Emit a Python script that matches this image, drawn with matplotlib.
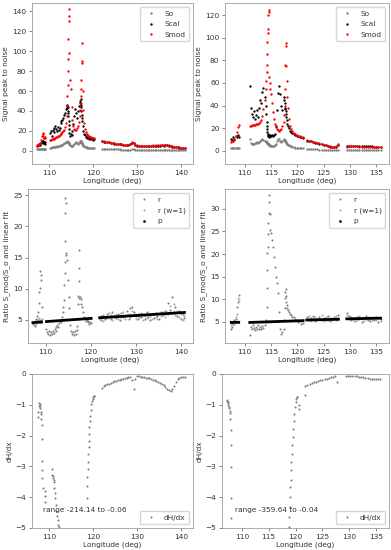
import matplotlib
matplotlib.use('Agg')
import matplotlib.pyplot as plt
import numpy as np
from matplotlib.lines import Line2D

plt.rcParams['font.size'] = 5.3
plt.rcParams['axes.linewidth'] = 0.5
plt.rcParams['axes.edgecolor'] = '#8c8c8c'
plt.rcParams['text.color'] = '#333333'
plt.rcParams['axes.labelcolor'] = '#333333'
plt.rcParams['xtick.color'] = '#333333'
plt.rcParams['ytick.color'] = '#333333'
plt.rcParams['lines.markeredgewidth'] = 0

# ---- left dataset (A) ----
xa1 = [107.2, 107.4, 107.6, 107.8, 108.0, 108.2, 108.4, 108.5, 108.6, 108.7, 108.8, 108.9, 109.0, 109.1]
soa1 = [1.5, 1.6, 1.5, 1.7, 1.8, 1.8, 1.9, 2.0, 2.1, 2.0, 2.2, 2.1, 2.0, 2.1]
sca1 = [5, 6, 5.5, 7, 6, 8, 10, 9, 8, 10, 9, 8, 9, 7]
sma1 = [6, 6, 6.5, 7, 8, 11, 15, 18, 17, 15, 13, 13, 14, 13]
ra1 = [4.3, 4.6, 4.0, 5.2, 4.8, 5.6, 6.3, 7.7, 9.4, 10.2, 12.8, 12.2, 11.4, 7.1]
rwa1 = [4.5, 4.2, 4.9, 4.4, 5.0, 4.6, 5.1, 4.7, 5.3, 4.8, 5.0, 4.5, 4.9, 5.2]

xa2 = [110.2, 110.4, 110.6, 110.8, 111.0, 111.2, 111.4, 111.6, 111.8, 112.0,
       112.2, 112.4, 112.6, 112.8, 113.0, 113.2, 113.4, 113.6, 113.8, 113.95,
       114.05, 114.15, 114.2, 114.25, 114.3, 114.35, 114.4, 114.45, 114.5, 114.6,
       114.75, 114.9, 115.1, 115.3, 115.5, 115.7, 115.9, 116.1, 116.3, 116.5,
       116.7, 116.9, 117.05, 117.15, 117.25, 117.3, 117.35, 117.4, 117.45, 117.5,
       117.6, 117.75, 117.9, 118.1, 118.3, 118.5, 118.7, 118.9, 119.1, 119.3,
       119.5, 119.7, 119.9, 120.1]
soa2 = [3, 3.2, 3.5, 3.8, 4, 4, 4.2, 4.5, 4.3, 4.5,
        4.8, 5, 5.5, 5.8, 6.2, 6.8, 7.5, 8.2, 9, 9.3,
        9.5, 9.4, 9.2, 9, 8.8, 8.5, 8.2, 7.8, 7.4, 6.8,
        6, 5.4, 5, 5, 5.5, 6.5, 7.5, 8.5, 8, 7,
        7.5, 8.5, 9.5, 10, 9.5, 9, 8.5, 8, 7.5, 7,
        6, 5, 4.5, 4, 3.8, 3.5, 3.3, 3.2, 3, 3,
        2.8, 2.7, 2.6, 2.5]
sca2 = [18, 20, 15, 21, 23, 19, 25, 22, 20, 24,
        21, 23, 30, 28, 31, 33, 36, 38, 42, 45,
        43, 46, 40, 44, 38, 35, 30, 26, 22, 18,
        15, 17, 16, 20, 27, 35, 42, 38, 33, 40,
        45, 48, 50, 52, 46, 44, 40, 36, 33, 30,
        25, 20, 17, 16, 14, 15, 13, 14, 12, 13,
        12, 13, 11, 12]
sma2 = [11, 11, 11.5, 12, 12, 12.5, 13, 13.5, 14, 14.5,
        15, 16, 17, 18, 19, 20, 21, 24, 28, 35,
        45, 55, 66, 80, 92, 112, 142, 135, 130, 98,
        71, 62, 44, 31, 25, 22, 21, 21, 23, 25,
        29, 35, 41, 48, 55, 62, 71, 88, 108, 90,
        60, 41, 28, 22, 19, 17, 16, 15, 14.5, 14,
        13.5, 13, 13, 12.5]
ra2 = [3.5, 3.0, 2.8, 3.2, 2.6, 3.0, 2.7, 3.3, 2.9, 3.6,
       3.2, 3.8, 4.2, 3.9, 4.5, 5.0, 4.6, 5.4, 6.2, 7.0,
       8.2, 10.6, 12.5, 14.3, 17.6, 22.2, 24.6, 23.8, 15.8, 15.4,
       14.6, 11.4, 8.7, 6.9, 4.2, 3.3, 2.8, 3.0, 2.6, 3.2,
       2.7, 3.4, 4.0, 5.2, 7.5, 8.8, 11.2, 13.3, 16.2, 8.5,
       8.7, 8.3, 7.6, 7.0, 6.2, 5.5, 5.2, 4.8, 5.0, 4.6,
       4.9, 4.4, 4.7, 4.5]

xa3 = [122.0, 122.4, 122.8, 123.2, 123.6, 124.0, 124.4, 124.8, 125.2, 125.6,
       126.0, 126.4, 126.8, 127.2, 127.6, 128.0, 128.4, 128.8, 129.2, 129.6,
       130.0, 130.4, 130.8, 131.2, 131.6, 132.0, 132.4, 132.8, 133.2, 133.6,
       134.0, 134.4, 134.8, 135.2, 135.6, 136.0, 136.4, 136.8, 137.2, 137.6,
       138.0, 138.4, 138.8, 139.2, 139.6, 140.0, 140.4, 140.8]
soa3 = [2.0, 1.95, 1.9, 1.85, 1.8, 1.75, 1.7, 1.65, 1.6, 1.55,
        1.5, 1.45, 1.4, 1.35, 1.3, 1.3, 1.4, 1.8, 1.5, 1.2,
        1.1, 1.1, 1.05, 1.0, 1.0, 1.0, 0.95, 0.95, 0.9, 0.9,
        0.9, 0.85, 0.85, 0.85, 0.8, 0.8, 0.8, 0.8, 0.75, 0.75,
        0.7, 0.7, 0.7, 0.65, 0.65, 0.6, 0.6, 0.6]
sca3 = [9.5, 9.2, 9.4, 8.7, 8.5, 8.0, 7.9, 7.4, 7.3, 6.9,
        6.7, 6.5, 6.2, 6.0, 5.8, 5.6, 6.8, 8.4, 7.6, 6.0,
        5.4, 5.3, 5.1, 5.2, 5.0, 5.2, 5.2, 5.1, 5.3, 5.3,
        5.2, 5.4, 5.4, 5.3, 5.5, 5.4, 5.5, 5.6, 5.4, 4.9,
        4.4, 4.0, 3.9, 3.6, 3.4, 3.2, 3.0, 2.9]
sma3 = [10.0, 9.6, 9.3, 9.0, 8.6, 8.3, 8.0, 7.7, 7.4, 7.1,
        6.8, 6.6, 6.4, 6.1, 5.9, 5.8, 6.5, 8.8, 8.0, 6.2,
        5.6, 5.4, 5.3, 5.3, 5.2, 5.3, 5.4, 5.3, 5.4, 5.5,
        5.4, 5.5, 5.6, 5.5, 5.6, 5.6, 5.7, 5.8, 5.6, 5.0,
        4.5, 4.2, 4.0, 3.7, 3.5, 3.3, 3.1, 3.0]
ra3 = [5.4, 5.0, 5.8, 5.2, 6.0, 5.5, 5.1, 6.2, 5.6, 5.3,
       5.9, 5.0, 6.1, 5.5, 5.7, 6.4, 5.2, 6.9, 7.1, 6.3,
       5.6, 5.2, 6.0, 5.4, 5.8, 5.1, 6.2, 5.5, 5.0, 5.9,
       5.3, 6.1, 5.6, 5.2, 6.3, 5.8, 6.5, 5.9, 7.7, 6.6,
       8.7, 6.2, 7.0, 5.6, 6.4, 5.2, 5.9, 5.3]
rwa3 = [5.2, 5.7, 4.9, 5.5, 5.3, 6.1, 5.8, 5.0, 5.4, 6.0,
        5.2, 5.7, 5.4, 6.3, 5.1, 5.8, 6.0, 5.5, 6.4, 5.9,
        5.1, 5.7, 5.5, 6.1, 5.0, 5.6, 5.3, 5.9, 5.7, 5.2,
        6.0, 5.5, 5.2, 5.9, 5.7, 6.2, 5.4, 6.4, 6.0, 7.2,
        6.1, 7.6, 5.8, 6.5, 5.5, 6.0, 5.0, 5.6]

# linear fit, segment end points
xpa = [107.2, 109.1, np.nan, 110.2, 120.1, np.nan, 122.0, 140.8]
pa = [4.57, 4.68, np.nan, 4.74, 5.25, np.nan, 5.35, 6.2]

# dH/dx (only the part inside -5..0)
xda1 = [107.4, 107.55, 107.7, 107.8, 107.9, 107.95, 108.0, 108.05, 108.1, 108.15,
        108.3, 108.35, 108.35, 108.4, 108.45, 108.6, 109.0, 109.05, 108.95]
dha1 = [-1.38, -1.24, -1.04, -0.93, -0.97, -1.03, -1.11, -1.22, -1.31, -1.45,
        -1.65, -2.10, -2.84, -3.11, -3.38, -3.70, -3.81, -3.95, -4.14]
xda2 = [110.6, 110.75, 110.85, 110.9, 111.0, 111.05, 111.1, 111.3, 111.35, 111.5,
        111.65, 111.8, 111.95, 112.1, 112.25]
dha2 = [-3.08, -3.27, -3.32, -3.38, -3.45, -3.52, -3.70, -3.87, -4.03, -4.24,
        -4.46, -4.60, -4.73, -4.89, -4.98]
xda3 = [118.6, 118.65, 118.7, 118.75, 118.8, 118.9, 118.95, 119.0, 119.1, 119.15,
        119.25, 119.35, 119.45, 119.6, 119.75, 119.9, 120.05, 120.2, 120.3]
dha3 = [-4.04, -3.64, -3.34, -3.07, -2.85, -2.61, -2.37, -2.16, -1.94, -1.73,
        -1.53, -1.35, -1.18, -0.99, -0.88, -0.80, -0.76, -0.73, -0.70]
dha4 = [-0.44, -0.40, -0.37, -0.34, -0.31, -0.28, -0.26, -0.24, -0.22, -0.20,
        -0.18, -0.16, -0.15, -0.13, -0.12, -0.11, -0.11, -0.20, -0.50, -0.15,
        -0.08, -0.08, -0.09, -0.10, -0.11, -0.12, -0.13, -0.14, -0.16, -0.18,
        -0.20, -0.22, -0.25, -0.28, -0.32, -0.37, -0.43, -0.49, -0.53, -0.54,
        -0.50, -0.40, -0.27, -0.17, -0.12, -0.10, -0.09, -0.09]

# ---- right dataset (B) ----
xb1 = [107.5, 107.7, 107.9, 108.1, 108.3, 108.5, 108.7, 108.9]
sob1 = [2.2, 2.4, 2.3, 2.5, 2.4, 2.6, 2.5, 2.6]
scb1 = [11, 10, 12, 11, 13, 12, 14, 12]
smb1 = [8, 8.5, 9, 10, 13, 17, 21, 23]
rb1 = [3.5, 3.9, 4.6, 5.4, 5.7, 8.3, 9.4, 10.9]
rwb1 = [4.2, 4.7, 5.0, 4.4, 6.1, 6.8, 10.2, 9.8]

xb2 = [111.0, 111.2, 111.4, 111.6, 111.8, 112.0, 112.2, 112.4, 112.6, 112.8,
       113.0, 113.2, 113.4, 113.6, 113.8, 114.0, 114.1, 114.2, 114.25, 114.3,
       114.35, 114.4, 114.45, 114.5, 114.55, 114.6, 114.7, 114.8, 114.9, 115.0,
       115.2, 115.4, 115.6, 115.8, 116.0, 116.2, 116.4, 116.6, 116.8, 117.0,
       117.2, 117.4, 117.55, 117.65, 117.7, 117.75, 117.8, 117.85, 117.9, 118.0,
       118.1, 118.2, 118.4, 118.6, 118.8, 119.0, 119.3, 119.6, 119.9, 120.2,
       120.5, 120.8, 121.1]
sob2 = [11, 7, 6.5, 6, 6.5, 7, 7, 7.5, 7, 7.5,
        8.5, 9.5, 10.5, 10, 9, 8.5, 8, 7.5, 7.3, 7,
        6.8, 6.5, 6.2, 6, 5.8, 5.5, 5.2, 5, 4.8, 4.6,
        4.4, 4.3, 4.5, 5, 6.5, 9, 11, 10.5, 8.5, 8,
        9, 10.5, 10, 9.5, 9, 8.5, 8, 7.5, 7, 6.5,
        6, 5.5, 5, 4.5, 4, 3.6, 3.3, 3, 2.8, 2.6,
        2.4, 2.3, 2.2]
scb2 = [57, 38, 33, 30, 35, 28, 32, 36, 30, 38,
        45, 42, 52, 56, 48, 40, 33, 26, 22, 19,
        17, 15, 14, 13, 13.5, 12.5, 13, 14, 13, 13.5,
        14, 13, 14, 15, 22, 36, 51, 57, 50, 40,
        36, 45, 48, 42, 38, 37, 35, 33, 30, 27,
        24, 22, 20, 18, 17, 16, 15, 14, 13.5, 13,
        12.5, 12, 11.5]
smb2 = [22, 22, 22.5, 22.5, 23, 23, 23.5, 23.5, 24, 24.5,
        25.5, 27, 31, 37, 45, 55, 62, 70, 76, 86,
        96, 104, 108, 120, 124, 123, 65, 60, 55, 50,
        42, 34, 28, 24, 21, 19.5, 18.5, 18, 18.5, 19.5,
        22, 26, 32, 40, 55, 76, 95, 93, 75, 62,
        48, 38, 28, 22, 19, 17.5, 16, 15, 14, 13.5,
        13, 12.5, 12]
rb2 = [2.0, 3.9, 3.4, 4.2, 3.6, 3.2, 3.9, 3.5, 4.3, 3.3,
       3.8, 3.4, 4.0, 3.6, 4.2, 5.0, 5.4, 8.3, 12.4, 16.5,
       20.2, 21.6, 24.4, 26.8, 29.0, 31.6, 33.0, 28.8, 25.3, 24.6,
       23.1, 21.6, 19.4, 17.2, 15.0, 13.5, 11.3, 7.2, 3.5, 2.4,
       2.8, 3.5, 5.5, 8.0, 10.2, 11.7, 12.2, 10.8, 9.4, 8.7,
       8.0, 7.6, 7.2, 6.8, 6.5, 6.1, 6.0, 5.7, 5.4, 5.0,
       5.2, 4.6, 4.8]

xb3 = [121.8, 122.2, 122.6, 123.0, 123.4, 123.8, 124.2, 124.6, 125.0, 125.4,
       125.8, 126.2, 126.6, 127.0, 127.4, 127.8]
sob3 = [1.6, 1.5, 1.5, 1.4, 1.3, 1.3, 1.2, 1.2, 1.1, 1.0, 1.0, 0.9, 0.9, 0.8, 0.9, 1.0]
scb3 = [9.2, 8.8, 8.4, 8.0, 7.4, 6.9, 6.4, 5.9, 5.4, 4.9, 4.4, 3.9, 3.5, 3.2, 3.8, 5.6]
smb3 = [9.5, 9.0, 8.6, 8.2, 7.6, 7.0, 6.6, 6.0, 5.5, 5.0, 4.5, 4.0, 3.6, 3.3, 4.0, 6.0]
rb3 = [6.0, 5.4, 5.8, 6.3, 5.1, 5.6, 6.1, 5.3, 5.9, 5.5, 6.2, 5.2, 5.7, 6.0, 5.4, 6.6]
rwb3 = [5.5, 6.2, 5.2, 5.7, 6.0, 5.3, 5.6, 6.4, 5.1, 6.0, 5.4, 5.9, 5.3, 5.6, 6.2, 5.8]

xb4 = [129.4, 129.8, 130.2, 130.6, 131.0, 131.4, 131.8, 132.2, 132.6, 133.0,
       133.4, 133.8, 134.2, 134.6, 135.0, 135.4, 135.8]
sob4 = [0.9, 0.8, 0.8, 0.8, 0.7, 0.7, 0.7, 0.7, 0.7, 0.6, 0.6, 0.6, 0.6, 0.6, 0.6, 0.6, 0.6]
scb4 = [4.3, 4.4, 4.5, 4.5, 4.4, 4.4, 4.3, 4.3, 4.2, 4.2, 4.1, 4.0, 4.0, 3.9, 3.8, 3.7, 3.6]
smb4 = [3.9, 4.0, 4.1, 4.1, 4.0, 4.0, 3.9, 3.9, 3.8, 3.8, 3.7, 3.7, 3.6, 3.5, 3.4, 3.3, 3.2]
rb4 = [7.0, 6.2, 5.4, 5.9, 5.2, 6.1, 5.6, 5.0, 5.8, 6.3, 5.4, 5.1, 5.9, 5.5, 6.0, 4.9, 5.6]
rwb4 = [6.4, 5.7, 6.0, 5.3, 5.8, 5.5, 6.2, 5.7, 5.2, 5.6, 6.0, 5.8, 5.3, 6.1, 5.4, 5.8, 5.2]

xpb = [107.5, 108.9, np.nan, 111.0, 121.1, np.nan, 121.8, 127.8, np.nan, 129.4, 135.8]
pb = [4.85, 4.88, np.nan, 4.85, 5.25, np.nan, 5.4, 5.55, np.nan, 5.65, 5.8]

xdb1 = [107.25, 107.3, 107.35, 107.4, 107.5, 107.55, 107.6, 107.7, 107.8, 107.85,
        107.9, 108.0, 108.0, 108.0, 108.05]
dhb1 = [-0.84, -0.88, -0.92, -0.95, -1.0, -1.06, -1.12, -1.2, -1.28, -1.45,
        -1.82, -2.3, -3.02, -4.03, -4.68]
xdb2 = [118.8, 118.85, 118.9, 119.0, 119.05, 119.1, 119.15, 119.2, 119.27, 119.35,
        119.45, 119.55, 119.65, 119.75, 119.85, 120.0, 120.1, 120.2, 120.3, 120.55,
        120.6, 121.75]
dhb2 = [-4.97, -4.64, -4.32, -3.99, -3.67, -3.44, -3.12, -2.86, -2.59, -2.32,
        -2.05, -1.78, -1.51, -1.30, -1.08, -0.92, -0.81, -0.76, -0.74, -1.0,
        -1.13, -0.68]
dhb3 = [-0.40, -0.36, -0.33, -0.30, -0.27, -0.25, -0.23, -0.21, -0.19, -0.17,
        -0.15, -0.13, -0.11, -0.09, -0.07, -0.25]
dhb4 = [-0.05, -0.05, -0.06, -0.06, -0.07, -0.08, -0.09, -0.10, -0.11, -0.12,
        -0.14, -0.15, -0.15, -0.16, -0.16, -0.17, -0.17]

ms = 3.4
fig = plt.figure(figsize=(3.91, 5.5), dpi=100)
W, H = 391.0, 550.0
def box(x0, y0, x1, y1):
    return [x0 / W, 1 - y1 / H, (x1 - x0) / W, (y1 - y0) / H]

ax1 = fig.add_axes(box(32, 3, 193, 164))
ax2 = fig.add_axes(box(225, 3, 389, 164))
ax3 = fig.add_axes(box(28, 189, 193, 343))
ax4 = fig.add_axes(box(225, 189, 389, 343))
ax5 = fig.add_axes(box(32, 374, 193, 528))
ax6 = fig.add_axes(box(222, 374, 389, 528))

# signal to noise
for ax, xs, so, sc, sm in [
        (ax1, [xa1, xa2, xa3], [soa1, soa2, soa3], [sca1, sca2, sca3], [sma1, sma2, sma3]),
        (ax2, [xb1, xb2, xb3, xb4], [sob1, sob2, sob3, sob4], [scb1, scb2, scb3, scb4],
         [smb1, smb2, smb3, smb4])]:
    for i in range(len(xs)):
        ax.plot(xs[i], so[i], '.', color='grey', ms=ms, label='So' if i == 0 else None)
        ax.plot(xs[i], sc[i], '.', color='black', ms=ms, label='Scal' if i == 0 else None)
        ax.plot(xs[i], sm[i], '.', color='red', ms=ms, label='Smod' if i == 0 else None)
    ax.set_ylabel('Signal peak to noise')
    ax.legend(loc='upper right', handletextpad=0.8, borderpad=0.5, labelspacing=0.6)

# ratio and fit
for ax, xs, rs, xw, rw, xp, p in [
        (ax3, [xa1, xa2, xa3], [ra1, ra2, ra3], [xa1, xa3], [rwa1, rwa3], xpa, pa),
        (ax4, [xb1, xb2, xb3, xb4], [rb1, rb2, rb3, rb4], [xb1, xb3, xb4], [rwb1, rwb3, rwb4], xpb, pb)]:
    for i in range(len(xs)):
        ax.plot(xs[i], rs[i], '.', color='grey', ms=3.0)
    for i in range(len(xw)):
        ax.plot(xw[i], rw[i], '.', color='darkgrey', ms=3.0)
    ax.plot(xp, p, '-', color='black', lw=2.0)
    hs = [Line2D([], [], ls='', marker='.', ms=3.0, color='grey'),
          Line2D([], [], ls='', marker='.', ms=3.0, color='darkgrey'),
          Line2D([], [], ls='', marker='.', ms=3.8, color='black')]
    ax.legend(hs, ['r', 'r (w=1)', 'p'], loc='upper right', handletextpad=0.8,
              borderpad=0.5, labelspacing=0.6)
    ax.set_ylabel('Ratio S_mod/S_o and linear fit')

# gradient
for ax, xs, ds, txt in [
        (ax5, [xda1, xda2, xda3, xa3], [dha1, dha2, dha3, dha4], 'range -214.14 to -0.06'),
        (ax6, [xdb1, xdb2, xb3, xb4], [dhb1, dhb2, dhb3, dhb4], 'range -359.64 to -0.04')]:
    for i in range(len(xs)):
        ax.plot(xs[i], ds[i], '.', color='grey', ms=3.0, label='dH/dx' if i == 0 else None)
    ax.set_ylim(-5, 0)
    ax.set_yticks([0, -1, -2, -3, -4, -5])
    ax.set_ylabel('dH/dx')
    ax.legend(loc='lower right', handletextpad=0.8, borderpad=0.5)
    ax.text(108.7, -4.43, txt, va='center', ha='left')

ax1.set_ylim(-13, 148)
ax1.set_yticks([0, 20, 40, 60, 80, 100, 120, 140])
ax2.set_ylim(-11.5, 130.6)
ax2.set_yticks([0, 20, 40, 60, 80, 100, 120])
ax3.set_ylim(1.3, 26.0)
ax3.set_yticks([5, 10, 15, 20, 25])
ax4.set_ylim(0.3, 34.4)
ax4.set_yticks([5, 10, 15, 20, 25, 30])

for ax in [ax1, ax3, ax5]:
    ax.set_xlim(106.1, 142.7)
    ax.set_xticks([110, 120, 130, 140])
for ax in [ax2, ax4, ax6]:
    ax.set_xlim(106.3, 137.4)
    ax.set_xticks([110, 115, 120, 125, 130, 135])

for ax in [ax1, ax2, ax3, ax4, ax5, ax6]:
    ax.set_xlabel('Longitude (deg)', labelpad=1.5)
    ax.tick_params(length=2, width=0.5, pad=2, color='#555555')
    ax.yaxis.labelpad = 2

fig.savefig('out.png', dpi=100)
